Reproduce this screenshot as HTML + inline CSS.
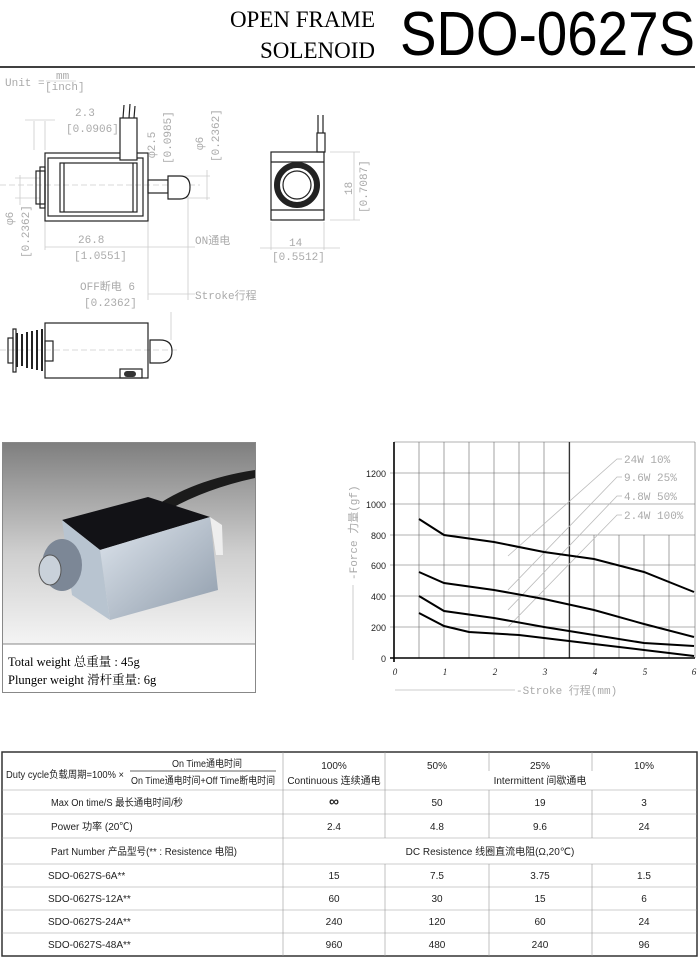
<!DOCTYPE html>
<html><head><meta charset="utf-8"><style>
html,body{margin:0;padding:0;background:#fff;}
svg{display:block;}
.g{fill:#aaa;font-family:"Liberation Mono","WenQuanYi Zen Hei",monospace;font-size:11px;}
.t{font-family:"Liberation Sans Narrow","Liberation Sans","WenQuanYi Zen Hei",sans-serif;font-size:10px;fill:#222;}
</style></head><body>
<svg width="700" height="964" viewBox="0 0 700 964" xmlns="http://www.w3.org/2000/svg">
<!-- header -->
<text x="375" y="27" text-anchor="end" font-family="Liberation Serif,serif" font-size="23" fill="#000">OPEN FRAME</text>
<text x="375" y="58" text-anchor="end" font-family="Liberation Serif,serif" font-size="23" fill="#000">SOLENOID</text>
<text x="400" y="55" font-family="Liberation Sans Narrow,Liberation Sans,sans-serif" font-size="62" textLength="295" lengthAdjust="spacingAndGlyphs" fill="#000">SDO-0627S</text>
<line x1="0" y1="67" x2="695" y2="67" stroke="#000" stroke-width="1.5"/>
<text x="5" y="86" class="g" font-size="9">Unit =</text>
<text x="56" y="79" class="g" font-size="8">mm</text>
<line x1="46" y1="81" x2="76" y2="81" stroke="#bbb" stroke-width="0.6"/>
<text x="45" y="90" class="g" font-size="9">[inch]</text>

<!-- side view drawing -->
<g stroke="#ccc" stroke-width="0.8" fill="none">
<line x1="34" y1="121" x2="34" y2="150"/><line x1="45" y1="121" x2="45" y2="150"/>
<line x1="25" y1="120" x2="55" y2="120"/>
<line x1="15" y1="178" x2="40" y2="178"/><line x1="15" y1="198" x2="40" y2="198"/>
<line x1="20" y1="175" x2="20" y2="205"/>
<line x1="45" y1="222" x2="45" y2="250"/><line x1="148" y1="222" x2="148" y2="300"/>
<line x1="45" y1="247" x2="195" y2="247"/>
<line x1="188" y1="195" x2="188" y2="300"/>
<line x1="171" y1="312" x2="171" y2="340"/>
<line x1="148" y1="294" x2="195" y2="294"/>
<line x1="170" y1="176" x2="210" y2="176"/><line x1="170" y1="198" x2="210" y2="198"/>
<line x1="207" y1="170" x2="207" y2="200"/>
<line x1="260" y1="248" x2="340" y2="248"/>
<line x1="271" y1="222" x2="271" y2="250"/><line x1="324" y1="222" x2="324" y2="250"/>
<line x1="330" y1="152" x2="360" y2="152"/><line x1="330" y1="220" x2="360" y2="220"/>
<line x1="354" y1="152" x2="354" y2="220"/>
<line x1="0" y1="185" x2="200" y2="185" stroke-dasharray="6,3"/>
<line x1="0" y1="350" x2="180" y2="350" stroke-dasharray="6,3"/>
</g>
<text x="75" y="116" class="g" font-size="12">2.3</text>
<text x="66" y="132" class="g" font-size="12">[0.0906]</text>
<text x="195" y="244" class="g" font-size="12">ON通电</text>
<text x="78" y="243" class="g" font-size="12">26.8</text>
<text x="74" y="259" class="g" font-size="12">[1.0551]</text>
<text x="80" y="290" class="g" font-size="12">OFF断电 6</text>
<text x="84" y="306" class="g" font-size="12">[0.2362]</text>
<text x="195" y="299" class="g" font-size="12">Stroke行程</text>
<text x="289" y="246" class="g" font-size="12">14</text>
<text x="272" y="260" class="g" font-size="12">[0.5512]</text>
<g class="g" font-size="12">
<text transform="translate(155,158) rotate(-90)">φ2.5</text>
<text transform="translate(171,164) rotate(-90)">[0.0985]</text>
<text transform="translate(203,150) rotate(-90)">φ6</text>
<text transform="translate(219,162) rotate(-90)">[0.2362]</text>
<text transform="translate(13,225) rotate(-90)">φ6</text>
<text transform="translate(29,258) rotate(-90)">[0.2362]</text>
<text transform="translate(352,195) rotate(-90)">18</text>
<text transform="translate(367,213) rotate(-90)">[0.7087]</text>
</g>
<g stroke="#222" stroke-width="1.2" fill="none">
<rect x="45" y="153" width="103" height="68"/>
<rect x="48" y="158" width="95" height="58"/>
<rect x="60" y="163" width="77" height="49"/>
<line x1="64" y1="163" x2="64" y2="212"/><line x1="133" y1="163" x2="133" y2="212"/>
<rect x="120" y="118" width="17" height="42" fill="#fff"/>
<path d="M123 118 L124 105 M129 118 L130 104 M134 118 L135 106"/>
<rect x="36" y="171" width="9" height="33"/><rect x="40" y="167" width="5" height="41"/>
<rect x="148" y="180" width="20" height="13"/>
<path d="M168 176 L180 176 Q190 176 190 187 Q190 199 180 199 L168 199 Z" fill="#fff"/>
<rect x="271" y="152" width="53" height="68"/>
<line x1="271" y1="162" x2="324" y2="162"/><line x1="271" y1="210" x2="324" y2="210"/>
<rect x="317" y="133" width="8" height="19"/>
<path d="M318 133 L318 115 M323 133 L323 115"/>
</g>
<circle cx="297" cy="185" r="20" fill="none" stroke="#222" stroke-width="6"/>
<circle cx="297" cy="185" r="14" fill="none" stroke="#222" stroke-width="1.2"/>
<g stroke="#222" stroke-width="1.2" fill="none">
<rect x="45" y="323" width="103" height="55"/>
<rect x="45" y="341" width="8" height="20"/>
<rect x="13" y="329" width="3" height="43"/>
<rect x="8" y="338" width="5" height="25"/>
<path d="M17 333 L17 367 M22 334 L22 366 M27 332 L27 368 M32 331 L32 369 M37 330 L37 370 M42 329 L42 371" stroke-width="2"/>
<path d="M150 340 L160 340 Q172 340 172 351 Q172 363 160 363 L150 363 Z"/>
<rect x="120" y="369" width="22" height="9"/>
</g>
<rect x="124" y="371" width="12" height="6" rx="3" fill="#333"/>

<!-- photo -->
<defs><linearGradient id="bg" x1="0" y1="0" x2="0" y2="1">
<stop offset="0" stop-color="#7f7f7f"/><stop offset="0.55" stop-color="#cfcfcf"/><stop offset="1" stop-color="#f4f4f4"/></linearGradient>
<linearGradient id="mt" x1="0" y1="0" x2="1" y2="1"><stop offset="0" stop-color="#dfe6ee"/><stop offset="1" stop-color="#8f9cab"/></linearGradient></defs>
<rect x="2.5" y="442.5" width="253" height="250" fill="#fff" stroke="#888"/>
<rect x="3" y="443" width="252" height="201" fill="url(#bg)"/>
<line x1="3" y1="644" x2="255" y2="644" stroke="#888"/>
<path d="M150 510 Q190 480 255 470 L255 478 Q200 490 160 515 Z" fill="#1b1b1b"/>
<path d="M62 520 L148 497 L210 517 L100 550 Z" fill="#121216"/>
<path d="M100 550 L210 517 L218 590 L110 620 Z" fill="url(#mt)"/>
<path d="M62 520 L100 550 L110 620 L72 595 Z" fill="#b8c4d0"/>
<path d="M210 517 L222 525 L223 555 L216 555 Z" fill="#eee"/>
<ellipse cx="62" cy="565" rx="20" ry="26" fill="#7c8796"/>
<ellipse cx="50" cy="570" rx="11" ry="15" fill="#c9d1da" stroke="#555"/>
<text x="8" y="666" font-family="Liberation Serif,'Noto Serif CJK SC',serif" font-size="12.5" fill="#000">Total weight 总重量 : 45g</text>
<text x="8" y="684" font-family="Liberation Serif,'Noto Serif CJK SC',serif" font-size="12.5" fill="#000">Plunger weight 滑杆重量: 6g</text>

<!-- chart -->
<g stroke="#666" stroke-width="0.6">
<line x1="419" y1="442" x2="419" y2="658"/><line x1="444" y1="442" x2="444" y2="658"/>
<line x1="469" y1="442" x2="469" y2="658"/><line x1="494" y1="442" x2="494" y2="658"/>
<line x1="519" y1="442" x2="519" y2="658"/><line x1="544" y1="442" x2="544" y2="658"/>
<line x1="569" y1="442" x2="569" y2="658"/>
<line x1="594" y1="535" x2="594" y2="658"/><line x1="619" y1="535" x2="619" y2="658"/>
<line x1="644" y1="535" x2="644" y2="658"/><line x1="669" y1="535" x2="669" y2="658"/>
<line x1="695" y1="442" x2="695" y2="658"/>
<line x1="394" y1="442" x2="695" y2="442"/>
<line x1="390" y1="473" x2="569" y2="473"/>
<line x1="390" y1="504" x2="695" y2="504"/>
<line x1="390" y1="535" x2="695" y2="535"/>
<line x1="390" y1="565" x2="695" y2="565"/>
<line x1="390" y1="596" x2="695" y2="596"/>
<line x1="390" y1="627" x2="695" y2="627"/>
</g>
<line x1="569.5" y1="442" x2="569.5" y2="658" stroke="#333" stroke-width="1.2"/>
<line x1="394" y1="442" x2="394" y2="662" stroke="#000" stroke-width="1.6"/>
<line x1="390" y1="658" x2="695" y2="658" stroke="#000" stroke-width="1.6"/>
<g font-family="Liberation Sans Narrow,Liberation Sans,sans-serif" font-size="9" fill="#222" text-anchor="end">
<text x="386" y="477">1200</text><text x="386" y="508">1000</text><text x="386" y="539">800</text>
<text x="386" y="569">600</text><text x="386" y="600">400</text><text x="386" y="631">200</text><text x="386" y="662">0</text>
</g>
<g font-family="Liberation Serif,serif" font-style="italic" font-size="9" fill="#222" text-anchor="middle">
<text x="395" y="675">0</text><text x="445" y="675">1</text><text x="495" y="675">2</text><text x="545" y="675">3</text>
<text x="595" y="675">4</text><text x="645" y="675">5</text><text x="694" y="675">6</text>
</g>
<text transform="translate(357,580) rotate(-90)" class="g" font-size="12">-Force 力量(gf)</text>
<line x1="353" y1="660" x2="353" y2="585" stroke="#ccc"/>
<line x1="395" y1="690" x2="515" y2="690" stroke="#ccc"/>
<text x="516" y="694" class="g" font-size="12">-Stroke 行程(mm)</text>
<g stroke="#bbb" stroke-width="0.8" fill="none">
<path d="M622 459 L617 459 L508 556"/><path d="M622 477 L617 477 L508 590"/>
<path d="M622 496 L617 496 L508 610"/><path d="M622 515 L617 515 L508 627"/>
</g>
<g class="g" font-size="10"><text x="624" y="463">24W 10%</text><text x="624" y="481">9.6W 25%</text>
<text x="624" y="500">4.8W 50%</text><text x="624" y="519">2.4W 100%</text></g>
<g stroke="#000" stroke-width="2" fill="none">
<path d="M419 519 L444 535 L494 542 L544 552 L594 559 L644 572 L694 592"/>
<path d="M419 572 L444 583 L494 590 L544 599 L594 610 L644 624 L694 637"/>
<path d="M419 596 L444 611 L494 618 L544 627 L594 635 L644 643 L694 646"/>
<path d="M419 613 L444 626 L469 632 L519 635 L544 638 L594 644 L644 650 L694 656"/>
</g>

<!-- table -->
<rect x="2" y="752" width="695" height="204" fill="none" stroke="#333" stroke-width="1.5"/>
<g stroke="#999" stroke-width="0.6">
<line x1="2" y1="790" x2="697" y2="790"/><line x1="2" y1="814" x2="697" y2="814"/>
<line x1="2" y1="838" x2="697" y2="838"/><line x1="2" y1="864" x2="697" y2="864"/>
<line x1="2" y1="887" x2="697" y2="887"/><line x1="2" y1="910" x2="697" y2="910"/>
<line x1="2" y1="933" x2="697" y2="933"/>
<line x1="283" y1="752" x2="283" y2="956"/>
<line x1="385" y1="752" x2="385" y2="838"/><line x1="385" y1="864" x2="385" y2="956"/>
<line x1="489" y1="752" x2="489" y2="771"/><line x1="489" y1="790" x2="489" y2="838"/><line x1="489" y1="864" x2="489" y2="956"/>
<line x1="592" y1="752" x2="592" y2="771"/><line x1="592" y1="790" x2="592" y2="838"/><line x1="592" y1="864" x2="592" y2="956"/>
</g>
<line x1="130" y1="771" x2="276" y2="771" stroke="#333" stroke-width="0.8"/>
<g class="t">
<text x="6" y="778" textLength="118" lengthAdjust="spacingAndGlyphs">Duty cycle负载周期=100% ×</text>
<text x="172" y="767" textLength="70" lengthAdjust="spacingAndGlyphs">On Time通电时间</text>
<text x="131" y="784" textLength="144" lengthAdjust="spacingAndGlyphs">On Time通电时间+Off Time断电时间</text>
<g text-anchor="middle">
<text x="334" y="769">100%</text><text x="437" y="769">50%</text><text x="540" y="769">25%</text><text x="644" y="769">10%</text>
<text x="334" y="784">Continuous 连续通电</text><text x="540" y="784">Intermittent 间歇通电</text>
<text x="334" y="806" font-size="14" font-weight="bold">∞</text><text x="437" y="806">50</text><text x="540" y="806">19</text><text x="644" y="806">3</text>
<text x="334" y="830">2.4</text><text x="437" y="830">4.8</text><text x="540" y="830">9.6</text><text x="644" y="830">24</text>
<text x="490" y="855">DC Resistence 线圈直流电阻(Ω,20℃)</text>
<text x="334" y="879">15</text><text x="437" y="879">7.5</text><text x="540" y="879">3.75</text><text x="644" y="879">1.5</text>
<text x="334" y="902">60</text><text x="437" y="902">30</text><text x="540" y="902">15</text><text x="644" y="902">6</text>
<text x="334" y="925">240</text><text x="437" y="925">120</text><text x="540" y="925">60</text><text x="644" y="925">24</text>
<text x="334" y="948">960</text><text x="437" y="948">480</text><text x="540" y="948">240</text><text x="644" y="948">96</text>
</g>
<text x="51" y="806" textLength="132" lengthAdjust="spacingAndGlyphs">Max On time/S 最长通电时间/秒</text>
<text x="51" y="830">Power 功率 (20℃)</text>
<text x="51" y="855" textLength="186" lengthAdjust="spacingAndGlyphs">Part Number 产品型号(** : Resistence 电阻)</text>
<text x="48" y="879">SDO-0627S-6A**</text>
<text x="48" y="902">SDO-0627S-12A**</text>
<text x="48" y="925">SDO-0627S-24A**</text>
<text x="48" y="948">SDO-0627S-48A**</text>
</g>
</svg>
</body></html>
